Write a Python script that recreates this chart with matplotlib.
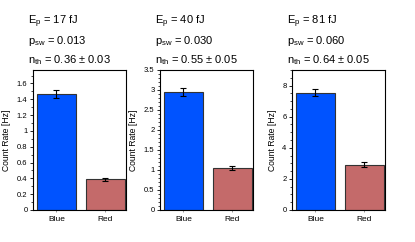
import numpy as np
import matplotlib.pyplot as plt
from matplotlib.ticker import MultipleLocator

plt.rcParams['font.family'] = ['Liberation Sans', 'DejaVu Sans']
plt.rcParams['mathtext.default'] = 'regular'

# data
categories = ['Blue', 'Red']
energies = [17, 40, 81]
p_sw = ['0.013', '0.030', '0.060']
n_th = ['0.36', '0.55', '0.64']
n_th_err = ['0.03', '0.05', '0.05']
rates = [[1.47, 0.39], [2.95, 1.05], [7.55, 2.92]]
rate_errs = [[0.05, 0.02], [0.10, 0.05], [0.20, 0.14]]

ylims = [1.77, 3.5, 9.0]
major = [0.2, 0.5, 2.0]
minor = [0.1, 0.1, 0.5]

colors = ['#0053FF', '#C46A6A']

fig = plt.figure(figsize=(4.15, 2.42), dpi=100)
W, H = 415, 242
lefts = [33, 160, 292]
width = 93
top, bottom = 70, 210

for i in range(3):
    ax = fig.add_axes([lefts[i] / W, 1 - bottom / H, width / W, (bottom - top) / H])
    x = np.arange(len(categories))
    ax.bar(x, rates[i], width=0.8, color=colors, edgecolor='#333333', linewidth=0.8)
    ax.errorbar(x, rates[i], yerr=rate_errs[i], fmt='none', ecolor='black',
                elinewidth=0.8, capsize=2.5, capthick=0.8)
    ax.set_xlim(-0.48, 1.42)
    ax.set_ylim(0, ylims[i])
    ax.yaxis.set_minor_locator(MultipleLocator(minor[i]))
    ticks = np.arange(0, ylims[i] + 1e-9, major[i])
    ax.set_yticks(ticks)
    ax.set_yticklabels(['%g' % round(t, 2) for t in ticks])
    ax.set_xticks(x)
    ax.set_xticklabels(categories)
    ax.tick_params(axis='both', labelsize=5.5, length=2, width=0.6, pad=2)
    ax.tick_params(axis='x', labelsize=6, pad=3)
    ax.tick_params(axis='y', which='minor', length=1.2, width=0.5)
    ax.tick_params(axis='x', length=1.5, color='#888888')
    for s in ax.spines.values():
        s.set_linewidth(0.8)
    ax.set_ylabel('Count Rate [Hz]', fontsize=6.2, labelpad=4)

    tx = (lefts[i] - 5) / W
    fig.text(tx, 1 - 22 / H, r'E$_{p}$ = %d fJ' % energies[i], fontsize=8, va='center')
    fig.text(tx, 1 - 41 / H, r'p$_{sw}$ = %s' % p_sw[i], fontsize=8, va='center')
    fig.text(tx, 1 - 60 / H, r'n$_{th}$ = %s $\pm$ %s' % (n_th[i], n_th_err[i]),
             fontsize=8, va='center')

fig.savefig('out.png', dpi=100)
